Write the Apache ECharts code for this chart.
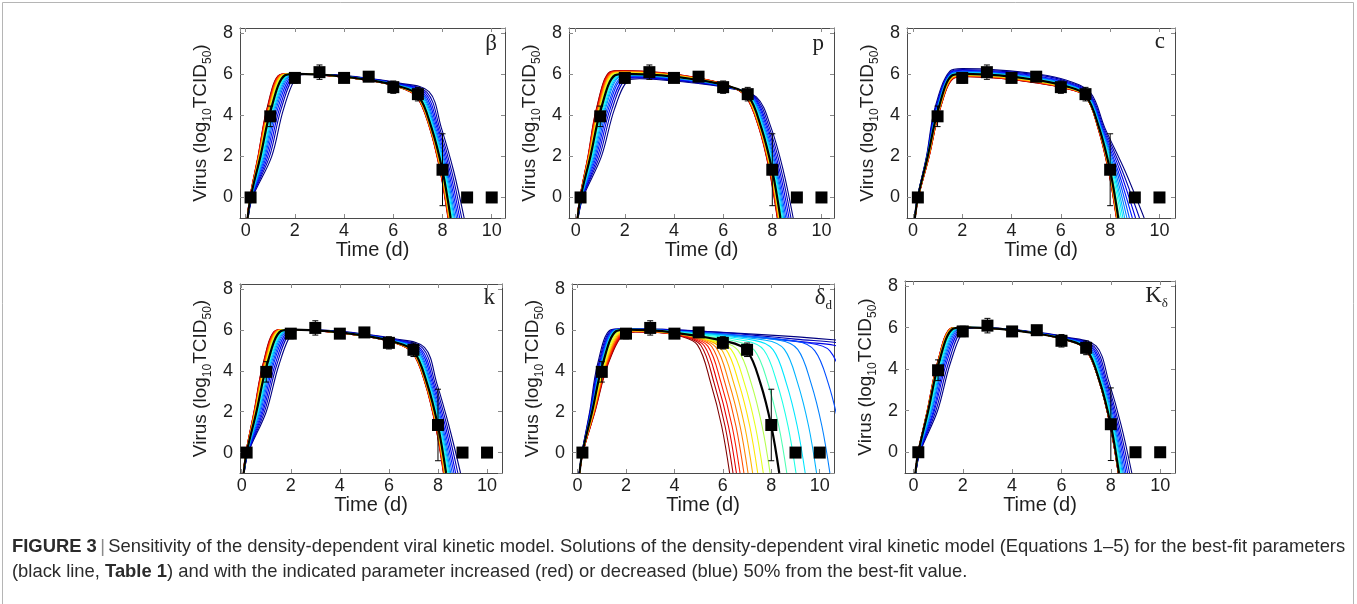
<!DOCTYPE html>
<html>
<head>
<meta charset="utf-8">
<script src="https://cdn.jsdelivr.net/npm/echarts@6/dist/echarts.min.js"></script>
<style>
  html, body { margin: 0; padding: 0; background: #ffffff; }
  #chart { width: 1357px; height: 604px; }
</style>
</head>
<body>
<div id="chart"></div>
<script>
// ---- Measured virus titers (log10 TCID50), mean and standard deviation ----
const obsDays  = [0.2, 1, 2, 3, 4, 5, 6, 7, 8, 9, 10];
const obsTiter = [0, 3.95, 5.82, 6.1, 5.82, 5.88, 5.37, 5.03, 1.35, 0, 0];
const obsSd    = [0, 0.5, 0.25, 0.35, 0.15, 0.12, 0.3, 0.33, 1.75, 0, 0];

// ---- Curve order in every row: +50% ... +5% (red side), best fit, -5% ... -50% (blue side) ----
const curveColors = [
  '#800000', '#b30000', '#e60000', '#ff1a00', '#ff4d00', '#ff8000', '#ffb300', '#ffe600', '#e6ff1a', '#b3ff4d',
  '#000000',
  '#4dffb3', '#1affe6', '#00e6ff', '#00b3ff', '#0080ff', '#004dff', '#001aff', '#0000e6', '#0000b3', '#000080'
];

// Knot levels of the model solutions
const riseLevels = [-1, 0, 2, 4.3];        // titer levels crossed during growth (x read per curve)
const plateauDays = [3.5, 5.0, 6.2];       // days at which the plateau titer is read
const deltaPlateauDays = [3.5];
const fallLevels = [3.4, 1.3, -1];         // titer levels crossed during clearance (x read per curve)

// ---- beta ----
const betaRise = [
  [0.07,0.07,0.07,0.07,0.07,0.07,0.08,0.08,0.08,0.08, 0.08, 0.08,0.08,0.08,0.09,0.09,0.09,0.09,0.09,0.1,0.1],
  [0.17,0.17,0.17,0.18,0.18,0.18,0.19,0.19,0.19,0.2, 0.2, 0.2,0.21,0.21,0.22,0.22,0.23,0.24,0.25,0.26,0.28],
  [0.5,0.51,0.51,0.52,0.53,0.54,0.55,0.56,0.57,0.59, 0.6, 0.62,0.65,0.68,0.71,0.75,0.79,0.84,0.9,0.97,1.06],
  [0.86,0.87,0.88,0.9,0.91,0.93,0.95,0.96,0.98,1.01, 1.03, 1.05,1.08,1.12,1.15,1.19,1.24,1.3,1.37,1.44,1.54]
];
const betaKnee = [
  [1.38,1.4,1.41,1.43,1.45,1.47,1.49,1.51,1.54,1.57, 1.6, 1.63,1.66,1.69,1.73,1.77,1.82,1.87,1.94,2.01,2.1],
  [5.97,5.97,5.97,5.97,5.97,5.97,5.96,5.96,5.96,5.96, 5.95, 5.95,5.94,5.94,5.94,5.93,5.93,5.92,5.92,5.91,5.9]
];
const betaFlat = [
  [1.85,1.87,1.89,1.9,1.93,1.95,1.98,2.0,2.03,2.07, 2.1, 2.12,2.15,2.18,2.21,2.25,2.29,2.34,2.4,2.47,2.55],
  [6.02,6.02,6.02,6.02,6.02,6.02,6.02,6.02,6.02,6.02, 6.02, 6.02,6.02,6.02,6.02,6.01,6.01,6.01,6.01,6.0,6.0]
];
const betaPlateau = [
  [5.92,5.92,5.92,5.92,5.93,5.93,5.93,5.93,5.93,5.94, 5.94, 5.94,5.94,5.95,5.95,5.95,5.96,5.96,5.97,5.97,5.98],
  [5.7,5.7,5.7,5.7,5.71,5.71,5.71,5.71,5.71,5.72, 5.72, 5.72,5.73,5.73,5.74,5.75,5.75,5.76,5.77,5.79,5.8],
  [5.38,5.38,5.39,5.39,5.39,5.4,5.4,5.4,5.41,5.41, 5.42, 5.43,5.44,5.45,5.46,5.47,5.49,5.51,5.53,5.55,5.58]
];
const betaShoulder = [
  [6.95,6.95,6.96,6.96,6.97,6.97,6.98,6.98,6.99,6.99, 7.0, 7.02,7.05,7.08,7.11,7.15,7.19,7.24,7.3,7.37,7.45],
  [4.9,4.91,4.91,4.92,4.92,4.93,4.94,4.95,4.96,4.97, 4.98, 4.99,5.0,5.01,5.02,5.04,5.05,5.07,5.09,5.12,5.15]
];
const betaFall = [
  [7.47,7.48,7.48,7.49,7.49,7.5,7.51,7.52,7.53,7.54, 7.55, 7.57,7.59,7.62,7.65,7.68,7.72,7.77,7.82,7.88,7.95],
  [7.9,7.91,7.91,7.92,7.93,7.94,7.95,7.96,7.97,7.99, 8.0, 8.02,8.05,8.08,8.11,8.15,8.19,8.24,8.3,8.37,8.45],
  [8.22,8.23,8.24,8.24,8.25,8.26,8.28,8.29,8.3,8.31, 8.33, 8.36,8.39,8.43,8.47,8.51,8.57,8.63,8.7,8.78,8.88]
];

// ---- p ----
const pRise = [
  [0.07,0.07,0.07,0.07,0.07,0.07,0.08,0.08,0.08,0.08, 0.08, 0.08,0.08,0.08,0.09,0.09,0.09,0.09,0.09,0.1,0.1],
  [0.17,0.17,0.17,0.18,0.18,0.18,0.19,0.19,0.19,0.2, 0.2, 0.21,0.21,0.22,0.23,0.23,0.24,0.25,0.27,0.28,0.3],
  [0.5,0.51,0.51,0.52,0.53,0.54,0.55,0.56,0.57,0.59, 0.6, 0.62,0.65,0.68,0.71,0.75,0.79,0.84,0.9,0.97,1.05],
  [0.84,0.85,0.87,0.88,0.9,0.92,0.94,0.96,0.98,1.0, 1.03, 1.06,1.09,1.13,1.17,1.21,1.27,1.33,1.4,1.48,1.58]
];
const pKnee = [
  [1.4,1.41,1.43,1.44,1.46,1.48,1.5,1.52,1.55,1.57, 1.6, 1.63,1.66,1.7,1.74,1.78,1.84,1.9,1.97,2.05,2.15],
  [6.12,6.11,6.1,6.08,6.07,6.05,6.04,6.02,6.0,5.97, 5.95, 5.94,5.92,5.91,5.89,5.87,5.84,5.82,5.78,5.75,5.7]
];
const pFlat = [
  [1.9,1.91,1.93,1.94,1.96,1.98,2.0,2.02,2.05,2.07, 2.1, 2.13,2.16,2.19,2.23,2.27,2.32,2.37,2.44,2.51,2.6],
  [6.18,6.17,6.16,6.14,6.13,6.12,6.1,6.08,6.06,6.04, 6.02, 6.01,5.99,5.98,5.96,5.94,5.92,5.89,5.86,5.82,5.78]
];
const pPlateau = [
  [6.08,6.07,6.06,6.05,6.04,6.02,6.01,6.0,5.98,5.96, 5.94, 5.93,5.92,5.9,5.89,5.87,5.85,5.82,5.79,5.76,5.72],
  [5.82,5.81,5.81,5.8,5.79,5.78,5.77,5.76,5.75,5.73, 5.72, 5.71,5.7,5.69,5.68,5.66,5.65,5.63,5.61,5.58,5.55],
  [5.45,5.45,5.45,5.44,5.44,5.44,5.44,5.43,5.43,5.42, 5.42, 5.42,5.41,5.4,5.4,5.39,5.38,5.37,5.36,5.35,5.33]
];
const pShoulder = [
  [6.9,6.91,6.91,6.92,6.93,6.94,6.95,6.96,6.97,6.99, 7.0, 7.02,7.04,7.06,7.09,7.12,7.15,7.19,7.23,7.29,7.35],
  [4.95,4.95,4.95,4.96,4.96,4.96,4.97,4.97,4.97,4.98, 4.98, 4.98,4.97,4.97,4.96,4.95,4.95,4.94,4.93,4.91,4.9]
];
const pFall = [
  [7.45,7.46,7.46,7.47,7.48,7.49,7.5,7.51,7.52,7.54, 7.55, 7.57,7.59,7.62,7.65,7.68,7.72,7.77,7.82,7.88,7.95],
  [7.88,7.89,7.9,7.91,7.92,7.93,7.94,7.95,7.97,7.98, 8.0, 8.02,8.05,8.08,8.11,8.15,8.19,8.24,8.3,8.37,8.45],
  [8.2,8.21,8.22,8.23,8.24,8.25,8.27,8.28,8.29,8.31, 8.33, 8.36,8.39,8.42,8.46,8.5,8.55,8.61,8.68,8.76,8.85]
];

// ---- c ----
const cRise = [
  [0.09,0.09,0.09,0.09,0.09,0.09,0.08,0.08,0.08,0.08, 0.08, 0.08,0.08,0.08,0.08,0.08,0.08,0.08,0.07,0.07,0.07],
  [0.22,0.22,0.22,0.22,0.21,0.21,0.21,0.21,0.21,0.2, 0.2, 0.2,0.2,0.2,0.2,0.19,0.19,0.19,0.19,0.18,0.18],
  [0.66,0.66,0.65,0.65,0.64,0.64,0.63,0.62,0.62,0.61, 0.6, 0.6,0.59,0.59,0.59,0.58,0.58,0.57,0.57,0.56,0.55],
  [1.1,1.1,1.09,1.08,1.08,1.07,1.07,1.06,1.05,1.04, 1.03, 1.02,1.01,1.0,0.99,0.98,0.97,0.95,0.93,0.91,0.88]
];
const cKnee = [
  [1.68,1.67,1.67,1.66,1.66,1.65,1.64,1.63,1.62,1.61, 1.6, 1.6,1.59,1.58,1.58,1.57,1.56,1.55,1.53,1.52,1.5],
  [5.82,5.83,5.84,5.85,5.86,5.87,5.89,5.9,5.91,5.93, 5.95, 5.96,5.97,5.99,6.0,6.02,6.04,6.06,6.08,6.11,6.15]
];
const cFlat = [
  [2.2,2.19,2.19,2.18,2.17,2.16,2.15,2.14,2.13,2.11, 2.1, 2.1,2.09,2.08,2.08,2.07,2.06,2.05,2.03,2.02,2.0],
  [5.88,5.89,5.9,5.91,5.92,5.94,5.95,5.97,5.98,6.0, 6.02, 6.03,6.05,6.06,6.08,6.1,6.13,6.16,6.19,6.23,6.27]
];
const cPlateau = [
  [5.8,5.81,5.82,5.83,5.84,5.86,5.87,5.89,5.9,5.92, 5.94, 5.95,5.97,5.99,6.01,6.03,6.05,6.08,6.11,6.15,6.2],
  [5.58,5.59,5.6,5.61,5.62,5.64,5.65,5.67,5.68,5.7, 5.72, 5.74,5.75,5.77,5.8,5.82,5.85,5.88,5.92,5.97,6.02],
  [5.3,5.31,5.32,5.33,5.34,5.35,5.36,5.37,5.39,5.4, 5.42, 5.44,5.45,5.47,5.5,5.52,5.55,5.58,5.62,5.67,5.72]
];
const cShoulder = [
  [7.0,7.0,7.0,7.0,7.0,7.0,7.0,7.0,7.0,7.0, 7.0, 7.01,7.02,7.04,7.05,7.07,7.09,7.11,7.13,7.16,7.2],
  [4.92,4.92,4.93,4.93,4.94,4.94,4.95,4.96,4.96,4.97, 4.98, 4.99,4.99,5.0,5.01,5.02,5.03,5.04,5.06,5.08,5.1]
];
const cFall = [
  [7.5,7.5,7.51,7.51,7.52,7.52,7.53,7.53,7.54,7.54, 7.55, 7.56,7.58,7.59,7.61,7.63,7.65,7.67,7.7,7.74,7.78],
  [7.93,7.93,7.94,7.95,7.95,7.96,7.97,7.97,7.98,7.99, 8.0, 8.03,8.07,8.11,8.15,8.2,8.26,8.32,8.4,8.49,8.6],
  [8.25,8.26,8.26,8.27,8.27,8.28,8.29,8.3,8.31,8.32, 8.33, 8.38,8.45,8.52,8.59,8.68,8.78,8.9,9.03,9.19,9.38]
];

// ---- k ----
const kRise = [
  [0.07,0.07,0.07,0.07,0.07,0.07,0.08,0.08,0.08,0.08, 0.08, 0.08,0.08,0.08,0.09,0.09,0.09,0.09,0.09,0.1,0.1],
  [0.17,0.17,0.17,0.18,0.18,0.18,0.19,0.19,0.19,0.2, 0.2, 0.2,0.21,0.21,0.22,0.22,0.23,0.24,0.25,0.26,0.27],
  [0.5,0.51,0.51,0.52,0.53,0.54,0.55,0.56,0.57,0.59, 0.6, 0.62,0.64,0.67,0.7,0.73,0.77,0.82,0.87,0.93,1.0],
  [0.86,0.87,0.88,0.9,0.91,0.93,0.95,0.96,0.98,1.01, 1.03, 1.05,1.08,1.12,1.15,1.19,1.24,1.29,1.36,1.43,1.52]
];
const kKnee = [
  [1.38,1.4,1.41,1.43,1.45,1.47,1.49,1.51,1.54,1.57, 1.6, 1.63,1.66,1.69,1.73,1.77,1.82,1.87,1.94,2.01,2.1],
  [5.97,5.97,5.97,5.97,5.97,5.97,5.96,5.96,5.96,5.96, 5.95, 5.95,5.94,5.94,5.94,5.93,5.93,5.92,5.92,5.91,5.9]
];
const kFlat = [
  [1.85,1.87,1.89,1.9,1.93,1.95,1.98,2.0,2.03,2.07, 2.1, 2.12,2.15,2.18,2.21,2.25,2.29,2.34,2.4,2.47,2.55],
  [6.02,6.02,6.02,6.02,6.02,6.02,6.02,6.02,6.02,6.02, 6.02, 6.02,6.02,6.02,6.02,6.01,6.01,6.01,6.01,6.0,6.0]
];
const kPlateau = [
  [5.92,5.92,5.92,5.92,5.93,5.93,5.93,5.93,5.93,5.94, 5.94, 5.94,5.94,5.95,5.95,5.95,5.96,5.96,5.97,5.97,5.98],
  [5.7,5.7,5.7,5.7,5.71,5.71,5.71,5.71,5.71,5.72, 5.72, 5.72,5.73,5.73,5.74,5.75,5.75,5.76,5.77,5.79,5.8],
  [5.38,5.38,5.39,5.39,5.39,5.4,5.4,5.4,5.41,5.41, 5.42, 5.43,5.44,5.45,5.46,5.47,5.49,5.51,5.53,5.55,5.58]
];
const kShoulder = [
  [6.95,6.95,6.96,6.96,6.97,6.97,6.98,6.98,6.99,6.99, 7.0, 7.02,7.05,7.08,7.11,7.15,7.19,7.24,7.3,7.37,7.45],
  [4.9,4.91,4.91,4.92,4.92,4.93,4.94,4.95,4.96,4.97, 4.98, 4.99,5.0,5.01,5.02,5.04,5.05,5.07,5.09,5.12,5.15]
];
const kFall = [
  [7.47,7.48,7.48,7.49,7.49,7.5,7.51,7.52,7.53,7.54, 7.55, 7.57,7.59,7.62,7.65,7.68,7.72,7.77,7.82,7.88,7.95],
  [7.9,7.91,7.91,7.92,7.93,7.94,7.95,7.96,7.97,7.99, 8.0, 8.02,8.05,8.08,8.11,8.15,8.19,8.24,8.3,8.37,8.45],
  [8.22,8.23,8.24,8.24,8.25,8.26,8.28,8.29,8.3,8.31, 8.33, 8.36,8.4,8.44,8.48,8.52,8.58,8.65,8.72,8.81,8.92]
];

// ---- delta_d ----
const deltaRise = [
  [0.09,0.09,0.09,0.09,0.09,0.09,0.09,0.08,0.08,0.08, 0.08, 0.08,0.08,0.08,0.08,0.08,0.08,0.07,0.07,0.07,0.07],
  [0.22,0.22,0.22,0.22,0.21,0.21,0.21,0.21,0.21,0.2, 0.2, 0.2,0.2,0.2,0.2,0.19,0.19,0.19,0.19,0.18,0.18],
  [0.72,0.71,0.7,0.69,0.68,0.67,0.66,0.65,0.63,0.62, 0.6, 0.6,0.59,0.58,0.58,0.57,0.56,0.55,0.53,0.52,0.5],
  [1.25,1.23,1.22,1.2,1.18,1.16,1.14,1.12,1.09,1.06, 1.03, 1.02,1.01,0.99,0.98,0.96,0.94,0.92,0.89,0.86,0.82]
];
const deltaKnee = [
  [1.95,1.93,1.9,1.87,1.84,1.81,1.78,1.74,1.69,1.65, 1.6, 1.59,1.57,1.56,1.54,1.52,1.49,1.47,1.43,1.4,1.35],
  [5.82,5.83,5.84,5.85,5.86,5.87,5.89,5.9,5.91,5.93, 5.95, 5.95,5.96,5.96,5.96,5.97,5.97,5.98,5.98,5.99,6.0]
];
const deltaFlat = [
  [2.4,2.38,2.36,2.33,2.31,2.28,2.25,2.22,2.18,2.14, 2.1, 2.09,2.07,2.06,2.04,2.02,1.99,1.97,1.93,1.9,1.85],
  [5.9,5.91,5.92,5.93,5.94,5.95,5.96,5.97,5.99,6.0, 6.02, 6.02,6.02,6.03,6.03,6.03,6.04,6.04,6.05,6.05,6.06]
];
const deltaPlateau = [
  [5.86,5.87,5.87,5.88,5.88,5.89,5.9,5.91,5.92,5.93, 5.94, 5.95,5.96,5.96,5.97,5.98,5.99,6.0,6.01,6.03,6.03]
];
const deltaPre = [
  [4.18,4.32,4.46,4.61,4.77,4.94,5.13,5.34,5.57,5.85, 6.23, 6.54,6.92,7.3,7.77,8.32,9.03,9.6,9.5,9.0,10.55],
  [5.72,5.7,5.68,5.66,5.64,5.61,5.58,5.54,5.5,5.46, 5.42, 5.45,5.47,5.49,5.5,5.5,5.45,5.35,5.4,5.55,5.52]
];
const deltaShoulder = [
  [4.95,5.09,5.23,5.38,5.54,5.71,5.9,6.11,6.34,6.62, 7.0, 7.31,7.69,8.07,8.54,9.09,9.8,10.42,11.2,11.8,13.5],
  [5.27,5.25,5.23,5.21,5.19,5.16,5.13,5.09,5.05,5.01, 4.98, 5.0,5.02,5.04,5.05,5.05,4.98,4.98,4.95,5.0,4.98]
];
const deltaFall = [
  [5.5,5.64,5.78,5.93,6.09,6.26,6.45,6.66,6.89,7.17, 7.55, 7.86,8.24,8.62,9.09,9.64,10.35,11.0,11.75,12.35,14.05],
  [5.95,6.09,6.23,6.38,6.54,6.71,6.9,7.11,7.34,7.62, 8.0, 8.31,8.69,9.07,9.54,10.09,10.8,11.45,12.2,12.8,14.5],
  [6.28,6.42,6.56,6.71,6.87,7.04,7.23,7.44,7.67,7.95, 8.33, 8.64,9.02,9.4,9.87,10.42,11.13,11.78,12.55,13.1,14.83]
];

// ---- K_delta ----
const kdRise = [
  [0.08,0.08,0.08,0.08,0.08,0.08,0.08,0.08,0.08,0.08, 0.08, 0.08,0.08,0.08,0.09,0.09,0.09,0.09,0.09,0.1,0.1],
  [0.19,0.19,0.19,0.19,0.19,0.19,0.2,0.2,0.2,0.2, 0.2, 0.2,0.21,0.21,0.22,0.22,0.23,0.24,0.25,0.26,0.27],
  [0.56,0.56,0.57,0.57,0.57,0.58,0.58,0.58,0.59,0.59, 0.6, 0.62,0.64,0.67,0.7,0.73,0.76,0.81,0.85,0.91,0.98],
  [0.97,0.97,0.98,0.98,0.99,0.99,1.0,1.01,1.01,1.02, 1.03, 1.05,1.08,1.11,1.15,1.19,1.23,1.28,1.34,1.42,1.5]
];
const kdKnee = [
  [1.52,1.53,1.53,1.54,1.54,1.55,1.56,1.57,1.58,1.59, 1.6, 1.62,1.65,1.69,1.72,1.76,1.81,1.86,1.92,1.99,2.08],
  [5.97,5.97,5.97,5.97,5.97,5.97,5.96,5.96,5.96,5.96, 5.95, 5.95,5.94,5.94,5.94,5.93,5.93,5.92,5.92,5.91,5.9]
];
const kdFlat = [
  [2.02,2.03,2.03,2.04,2.04,2.05,2.06,2.07,2.08,2.09, 2.1, 2.12,2.15,2.18,2.21,2.25,2.29,2.34,2.4,2.47,2.55],
  [6.02,6.02,6.02,6.02,6.02,6.02,6.02,6.02,6.02,6.02, 6.02, 6.02,6.02,6.02,6.02,6.01,6.01,6.01,6.01,6.0,6.0]
];
const kdPlateau = [
  [5.94,5.94,5.94,5.94,5.94,5.94,5.94,5.94,5.94,5.94, 5.94, 5.94,5.94,5.95,5.95,5.95,5.95,5.96,5.96,5.96,5.97],
  [5.72,5.72,5.72,5.72,5.72,5.72,5.72,5.72,5.72,5.72, 5.72, 5.72,5.73,5.73,5.74,5.74,5.75,5.75,5.76,5.77,5.78],
  [5.41,5.41,5.41,5.41,5.41,5.41,5.42,5.42,5.42,5.42, 5.42, 5.43,5.43,5.44,5.45,5.46,5.48,5.49,5.51,5.53,5.55]
];
const kdShoulder = [
  [6.98,6.98,6.98,6.98,6.99,6.99,6.99,6.99,7.0,7.0, 7.0, 7.02,7.04,7.07,7.1,7.13,7.17,7.22,7.27,7.33,7.4],
  [4.96,4.96,4.96,4.96,4.97,4.97,4.97,4.97,4.97,4.98, 4.98, 4.99,5.0,5.01,5.02,5.03,5.04,5.06,5.07,5.09,5.12]
];
const kdFall = [
  [7.53,7.53,7.53,7.53,7.54,7.54,7.54,7.54,7.54,7.55, 7.55, 7.57,7.59,7.62,7.64,7.67,7.71,7.75,7.8,7.85,7.92],
  [7.97,7.97,7.97,7.98,7.98,7.98,7.99,7.99,7.99,8.0, 8.0, 8.02,8.05,8.08,8.11,8.14,8.18,8.23,8.28,8.34,8.42],
  [8.3,8.3,8.3,8.31,8.31,8.31,8.32,8.32,8.32,8.33, 8.33, 8.36,8.39,8.42,8.46,8.5,8.55,8.61,8.68,8.76,8.85]
];

// ---- Axis ticks and texts ----
const yTickLabels = ['0', '2', '4', '6', '8'];
const xTickLabels = ['0', '2', '4', '6', '8', '10'];
const xTitle = 'Time (d)';
const yTitleRich = '{t|Virus (log}{s|10}{t|TCID}{s|50}{t|)}';
const captionLine1 = '{b|FIGURE 3} {g||} {n|Sensitivity of the density-dependent viral kinetic model. Solutions of the density-dependent viral kinetic model (Equations 1–5) for the best-fit parameters}';
const captionLine2 = '{n|(black line, }{b|Table 1}{n|) and with the indicated parameter increased (red) or decreased (blue) 50% from the best-fit value.}';

// ---- Panel layout ----
const panels = [
  { grid: { left: 240, top: 28, width: 265, height: 190 }, xr: [-0.23, 10.54], tag: '{m|β}', tagAt: [497, 30],
    d: { rise: betaRise, knee: betaKnee, flat: betaFlat, days: plateauDays, plateau: betaPlateau, mid: [betaShoulder], fall: betaFall } },
  { grid: { left: 569, top: 28, width: 265, height: 190 }, xr: [-0.27, 10.51], tag: '{m|p}', tagAt: [824, 30],
    d: { rise: pRise, knee: pKnee, flat: pFlat, days: plateauDays, plateau: pPlateau, mid: [pShoulder], fall: pFall } },
  { grid: { left: 907, top: 28, width: 268, height: 190 }, xr: [-0.24, 10.63], tag: '{m|c}', tagAt: [1165, 28],
    d: { rise: cRise, knee: cKnee, flat: cFlat, days: plateauDays, plateau: cPlateau, mid: [cShoulder], fall: cFall } },
  { grid: { left: 240, top: 284, width: 262, height: 189 }, xr: [-0.07, 10.61], tag: '{m|k}', tagAt: [495, 284],
    d: { rise: kRise, knee: kKnee, flat: kFlat, days: plateauDays, plateau: kPlateau, mid: [kShoulder], fall: kFall } },
  { grid: { left: 572, top: 284, width: 262, height: 189 }, xr: [-0.23, 10.59], tag: '{m|δ}{s|d}', tagAt: [832, 284],
    d: { rise: deltaRise, knee: deltaKnee, flat: deltaFlat, days: deltaPlateauDays, plateau: deltaPlateau, mid: [deltaPre, deltaShoulder], fall: deltaFall } },
  { grid: { left: 905, top: 281, width: 270, height: 192 }, xr: [-0.34, 10.6], tag: '{m|K}{s|δ}', tagAt: [1168, 282],
    d: { rise: kdRise, knee: kdKnee, flat: kdFlat, days: plateauDays, plateau: kdPlateau, mid: [kdShoulder], fall: kdFall } }
];

const SANS = "'Liberation Sans', Arial, Helvetica, sans-serif";
const SERIF = "'Liberation Serif', 'Times New Roman', serif";
const AXIS_COLOR = '#4a4a4a';
const TEXT_COLOR = '#1e1e1e';

// Assemble one solution curve from the knot rows (curve index i)
function curvePoints(d, i) {
  const pts = [];
  riseLevels.forEach((lv, j) => pts.push([d.rise[j][i], lv]));
  pts.push([d.knee[0][i], d.knee[1][i]]);
  pts.push([d.flat[0][i], d.flat[1][i]]);
  d.days.forEach((day, j) => pts.push([day, d.plateau[j][i]]));
  d.mid.forEach(m => pts.push([m[0][i], m[1][i]]));
  fallLevels.forEach((lv, j) => pts.push([d.fall[j][i], lv]));
  return pts;
}

const obsPoints = obsDays.map((x, i) => [x, obsTiter[i]]);
const obsBars = obsDays.map((x, i) => [x, obsTiter[i] - obsSd[i], obsTiter[i] + obsSd[i]]).filter((r, i) => obsSd[i] > 0);

const grids = [], xAxes = [], yAxes = [], series = [], graphics = [];

// Drawing order: blue side (far to near), red side (far to near), best fit on top
const drawOrder = [20, 19, 18, 17, 16, 15, 14, 13, 12, 11, 0, 1, 2, 3, 4, 5, 6, 7, 8, 9, 10];

panels.forEach((p, g) => {
  grids.push(Object.assign({ show: false, containLabel: false }, p.grid));

  const xCommon = {
    type: 'value', gridIndex: g, min: p.xr[0], max: p.xr[1],
    minInterval: 2, maxInterval: 2, splitNumber: 5,
    splitLine: { show: false },
    axisLine: { show: true, onZero: false, lineStyle: { color: AXIS_COLOR, width: 1 } },
    axisTick: { show: true, inside: true, length: 4, lineStyle: { color: '#8a8a8a', width: 1 } }
  };
  xAxes.push(Object.assign({}, xCommon, {
    position: 'bottom',
    axisLabel: {
      show: true, showMinLabel: false, showMaxLabel: false, margin: 4,
      fontFamily: SANS, fontSize: 18, color: TEXT_COLOR,
      formatter: v => xTickLabels.includes(String(v)) ? String(v) : ''
    },
    name: xTitle, nameLocation: 'middle', nameGap: 20,
    nameTextStyle: { fontFamily: SANS, fontSize: 20, color: TEXT_COLOR }
  }));
  xAxes.push(Object.assign({}, xCommon, { position: 'top', axisLabel: { show: false } }));

  const yCommon = {
    type: 'value', gridIndex: g, min: -1, max: 8.25,
    minInterval: 2, maxInterval: 2, splitNumber: 4,
    splitLine: { show: false },
    axisLine: { show: true, onZero: false, lineStyle: { color: AXIS_COLOR, width: 1 } },
    axisTick: { show: true, inside: true, length: 4, lineStyle: { color: '#8a8a8a', width: 1 } }
  };
  yAxes.push(Object.assign({}, yCommon, {
    position: 'left',
    axisLabel: {
      show: true, showMinLabel: false, showMaxLabel: false, margin: 7,
      fontFamily: SANS, fontSize: 18, color: TEXT_COLOR,
      formatter: v => yTickLabels.includes(String(v)) ? String(v) : ''
    },
    name: yTitleRich, nameLocation: 'middle', nameRotate: 90, nameGap: 26,
    nameTextStyle: {
      fontFamily: SANS, color: TEXT_COLOR,
      rich: {
        t: { fontFamily: SANS, fontSize: 19, color: TEXT_COLOR, lineHeight: 26 },
        s: { fontFamily: SANS, fontSize: 12, color: TEXT_COLOR, lineHeight: 12, verticalAlign: 'bottom' }
      }
    }
  }));
  yAxes.push(Object.assign({}, yCommon, { position: 'right', axisLabel: { show: false } }));

  const xi = 2 * g, yi = 2 * g;

  drawOrder.forEach(i => {
    const isBest = i === 10;
    series.push({
      type: 'line', xAxisIndex: xi, yAxisIndex: yi,
      data: curvePoints(p.d, i),
      showSymbol: false, symbol: 'none', smooth: 0.35, clip: true,
      lineStyle: { color: curveColors[i], width: isBest ? 2.2 : 1.1 },
      z: isBest ? 4 : 2, silent: true, animation: false
    });
  });

  // Error bars of the measurements
  series.push({
    type: 'custom', xAxisIndex: xi, yAxisIndex: yi, data: obsBars, z: 5, silent: true, animation: false,
    renderItem: (params, api) => {
      const top = api.coord([api.value(0), api.value(2)]);
      const bot = api.coord([api.value(0), api.value(1)]);
      const cap = 3;
      const st = { stroke: '#000', lineWidth: 1 };
      return {
        type: 'group', children: [
          { type: 'line', shape: { x1: top[0], y1: top[1], x2: bot[0], y2: bot[1] }, style: st },
          { type: 'line', shape: { x1: top[0] - cap, y1: top[1], x2: top[0] + cap, y2: top[1] }, style: st },
          { type: 'line', shape: { x1: bot[0] - cap, y1: bot[1], x2: bot[0] + cap, y2: bot[1] }, style: st }
        ]
      };
    }
  });

  // Measured titers
  series.push({
    type: 'scatter', xAxisIndex: xi, yAxisIndex: yi, data: obsPoints,
    symbol: 'rect', symbolSize: 12, itemStyle: { color: '#000', opacity: 1 }, z: 6, silent: true, animation: false
  });

  // Parameter tag in the upper right corner
  graphics.push({
    type: 'text', x: p.tagAt[0], y: p.tagAt[1], z: 10,
    style: {
      text: p.tag, align: 'right', verticalAlign: 'top',
      rich: {
        m: { fontFamily: SERIF, fontSize: 23, fill: '#222', lineHeight: 28 },
        s: { fontFamily: SERIF, fontSize: 13, fill: '#222', lineHeight: 13, verticalAlign: 'bottom' }
      }
    }
  });
});

// Figure frame and caption
graphics.push({
  type: 'rect', z: 0, shape: { x: 2.5, y: 2.5, width: 1351, height: 640 },
  style: { fill: 'none', stroke: '#b5b5b5', lineWidth: 1 }
});
const capRich = {
  b: { fontFamily: SANS, fontSize: 18.4, fontWeight: 'bold', fill: '#2b2b2b' },
  g: { fontFamily: SANS, fontSize: 18.4, fill: '#8a8a8a' },
  n: { fontFamily: SANS, fontSize: 18.4, fill: '#2b2b2b' }
};
graphics.push({ type: 'text', x: 12, y: 547, z: 10, style: { text: captionLine1, verticalAlign: 'middle', rich: capRich } });
graphics.push({ type: 'text', x: 12, y: 572, z: 10, style: { text: captionLine2, verticalAlign: 'middle', rich: capRich } });

const chart = echarts.init(document.getElementById('chart'), null, { renderer: 'canvas' });
chart.setOption({
  backgroundColor: '#ffffff',
  animation: false,
  grid: grids,
  xAxis: xAxes,
  yAxis: yAxes,
  series: series,
  graphic: graphics
});
</script>
</body>
</html>
